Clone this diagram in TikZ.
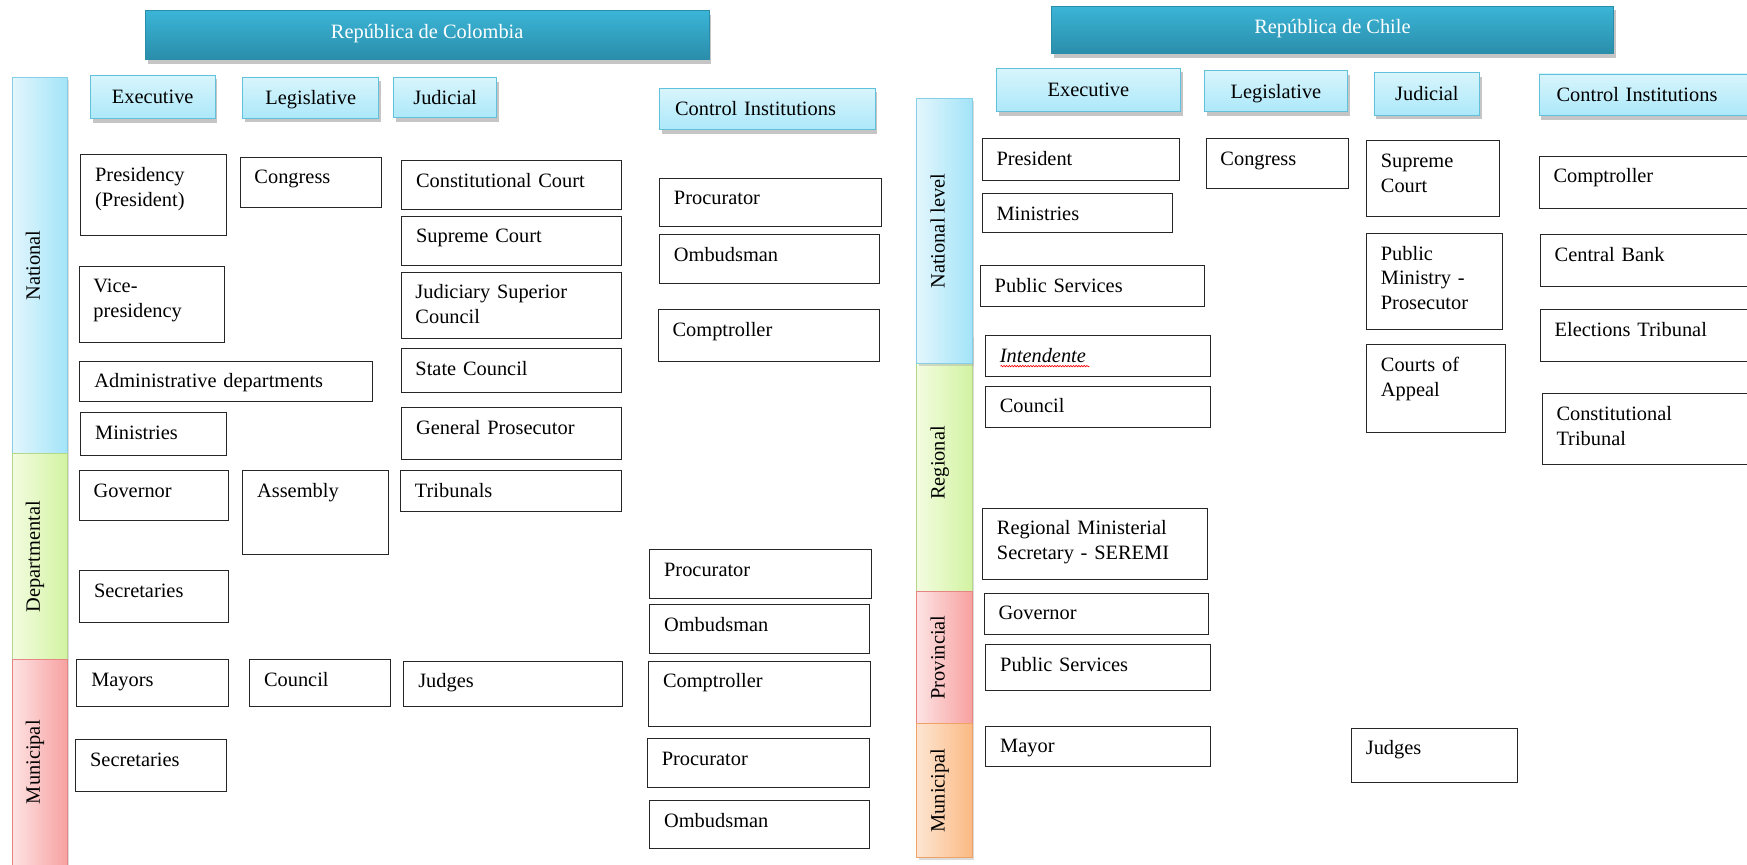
\documentclass[tikz,border=0pt]{standalone}
\usepackage{fontspec}
\setmainfont{Liberation Serif}
\usetikzlibrary{shadows,decorations.pathmorphing}

\definecolor{titletop}{HTML}{3BB5D7}
\definecolor{titlebot}{HTML}{2A8DAA}
\definecolor{headtop}{HTML}{D8F5FC}
\definecolor{headbot}{HTML}{ACE8FA}
\definecolor{headline}{HTML}{62C0DA}
\definecolor{natL}{HTML}{E3F6FD}
\definecolor{natR}{HTML}{A3E4F8}
\definecolor{natline}{HTML}{86CFE6}
\definecolor{depL}{HTML}{F3FCE0}
\definecolor{depR}{HTML}{D2F3A2}
\definecolor{depline}{HTML}{B4D88A}
\definecolor{munL}{HTML}{FDE3E3}
\definecolor{munR}{HTML}{F8A1A1}
\definecolor{munline}{HTML}{E58585}
\definecolor{oraL}{HTML}{FDE5D2}
\definecolor{oraR}{HTML}{FBBA84}
\definecolor{oraline}{HTML}{EFA265}

\tikzset{
  box/.style={draw=black!85, line width=0.8pt, fill=white, anchor=north west,
    align=left, inner xsep=13pt, inner ysep=11pt, text height=13pt},
  cell/.style 2 args={box, text width=#1pt, text depth=#2pt},
  branch/.style 2 args={draw=headline, line width=0.8pt, top color=headtop,
    bottom color=headbot, anchor=north west, inner sep=0pt,
    minimum width=#1pt, minimum height=#2pt, text height=12.2pt, text depth=0pt,
    drop shadow={shadow xshift=2pt, shadow yshift=-3.5pt, fill=black!45, opacity=0.5}},
  banner/.style 2 args={draw=titlebot, line width=0.8pt, top color=titletop,
    bottom color=titlebot, text=white, anchor=north west, inner sep=0pt,
    minimum width=#1pt, minimum height=#2pt, text height=12.2pt, text depth=6pt,
    drop shadow={shadow xshift=2pt, shadow yshift=-4pt, fill=black!45, opacity=0.5}},
  levelbar/.style={anchor=north west, inner sep=0pt, minimum width=49.5pt,
    line width=0.8pt,
    drop shadow={shadow xshift=1.5pt, shadow yshift=-2.5pt, fill=black!35, opacity=0.4}},
  natbar/.style={levelbar, draw=natline, left color=natL, right color=natR},
  depbar/.style={levelbar, draw=depline, left color=depL, right color=depR},
  munbar/.style={levelbar, draw=munline, left color=munL, right color=munR},
  orabar/.style={levelbar, draw=oraline, left color=oraL, right color=oraR},
  bartext/.style={rotate=90, inner sep=0pt, text height=12.2pt, text depth=0pt},
}

\begin{document}
\begin{tikzpicture}[x=1pt,y=-1pt,font=\fontsize{18.3}{22.3}\selectfont]
  \useasboundingbox (0,0) rectangle (1568,775.5);

  % Colombia
  \node[banner={506}{44}] (colTitle) at (130,9) {República de Colombia};

  \node[natbar, minimum height=337.8pt] (colNat) at (10.5,69) {};
  \node[depbar, minimum height=184.9pt] (colDep) at (10.5,406.8) {};
  \node[munbar, minimum height=190pt] (colMun) at (10.5,591.7) {};
  \node[bartext] (colNatText) at ([xshift=-6pt]colNat.center) {National};
  \node[bartext] (colDepText) at ([xshift=-6pt]colDep.center) {Departmental};
  \node[bartext] (colMunText) at ([xshift=-6pt,yshift=3pt]colMun.center) {Municipal};

  \node[branch={111.8}{38.9}] (colExec) at (80.8,67.3) {Executive};
  \node[branch={122}{36.5}] (colLeg) at (217.5,69) {Legislative};
  \node[branch={92.9}{35.8}] (colJud) at (352.6,69.4) {Judicial};
  \node[branch={193.4}{37.4}, text width=165.4pt, align=left] (colCtrl) at (591.5,78.7) {Control Institutions};

  \node[cell={105}{37.5}] (colPres) at (72,138.5) {Presidency\\(President)};
  \node[cell={104.5}{33.8}] (colVice) at (70.5,238.4) {Vice-\\presidency};
  \node[cell={237}{1.2}] (colAdmin) at (71.3,323.7) {Administrative departments};
  \node[cell={105}{3.3}] (colMin) at (72,370) {Ministries};
  \node[cell={108.4}{10.2}] (colGov) at (70.6,421.8) {Governor};
  \node[cell={108}{11.5}] (colSecDep) at (71,512) {Secretaries};
  \node[cell={110.5}{6.6}] (colMayors) at (68.5,591.7) {Mayors};
  \node[cell={109}{11.3}] (colSecMun) at (67.5,663.5) {Secretaries};

  \node[cell={100.7}{10}] (colCong) at (215,140.6) {Congress};
  \node[cell={105}{40.7}] (colAssem) at (217.4,421.8) {Assembly};
  \node[cell={100.2}{6.6}] (colCouncil) at (223.6,591.7) {Council};

  \node[cell={171.7}{8.6}] (colConst) at (360,144) {Constitutional Court};
  \node[cell={171}{9.3}] (colSup) at (360,193.5) {Supreme Court};
  \node[cell={172}{24.2}] (colJudic) at (359.5,243.8) {Judiciary Superior\\Council};
  \node[cell={171.5}{4}] (colState) at (359.5,312.6) {State Council};
  \node[cell={171.7}{11.7}] (colGenPro) at (360,365.5) {General Prosecutor};
  \node[cell={172}{1.8}] (colTrib) at (359,421.8) {Tribunals};
  \node[cell={170}{5.4}] (colJudges) at (362,592.9) {Judges};

  \node[cell={173}{8.3}] (colProcNat) at (591.5,159.5) {Procurator};
  \node[cell={171}{8.4}] (colOmbNat) at (591.5,210.3) {Ombudsman};
  \node[cell={173}{11.4}] (colCompNat) at (590.3,277.6) {Comptroller};
  \node[cell={173}{8.4}] (colProcDep) at (582.7,493) {Procurator};
  \node[cell={171.3}{8.4}] (colOmbDep) at (582.7,542.3) {Ombudsman};
  \node[cell={172.8}{24.1}] (colCompMun) at (581.7,592.9) {Comptroller};
  \node[cell={173.4}{8.4}] (colProcMun) at (580.6,662.6) {Procurator};
  \node[cell={171.3}{8.3}] (colOmbMun) at (582.7,718) {Ombudsman};

  % Chile
  \node[banner={504.2}{43}] (chTitle) at (943.4,5) {República de Chile};

  \node[depbar, minimum height=230.2pt] (chReg) at (822.5,300) {};
  \node[natbar, minimum height=238pt] (chNat) at (822.5,88) {};
  \node[munbar, minimum height=119pt] (chProv) at (822.5,530.2) {};
  \node[orabar, minimum height=119.7pt] (chMun) at (822.5,649.2) {};
  \node[bartext] (chNatText) at ([xshift=-6pt]chNat.center) {National level};
  \node[bartext] (chRegText) at ([xshift=-6pt]chReg.center) {Regional};
  \node[bartext] (chProvText) at ([xshift=-6pt]chProv.center) {Provincial};
  \node[bartext] (chMunText) at ([xshift=-6pt]chMun.center) {Municipal};

  \node[branch={165}{39}] (chExec) at (894,61) {Executive};
  \node[branch={128.4}{37}] (chLeg) at (1080.6,63) {Legislative};
  \node[branch={95}{38}] (chJud) at (1232.8,65) {Judicial};
  \node[branch={200}{37.5}, text width=168.6pt, align=left] (chCtrl) at (1381,66) {Control Institutions};

  \node[cell={151}{2.5}] (chPres) at (881,124) {President};
  \node[cell={145}{0}] (chMin) at (881,173.5) {Ministries};
  \node[cell={175.6}{1.6}] (chPubNat) at (879.4,238) {Public Services};
  \node[cell={176}{1.8}] (chIntend) at (884,300.6) {\textit{Intendente}};
  \node[cell={176}{2}] (chCouncil) at (884,346) {Council};
  \node[cell={175.6}{29}] (chSeremi) at (881.4,455.7) {Regional Ministerial\\Secretary - SEREMI};
  \node[cell={175.2}{2}] (chGov) at (882.8,532) {Governor};
  \node[cell={176}{6}] (chPubProv) at (884.3,578.3) {Public Services};
  \node[cell={176}{1.2}] (chMayor) at (884.3,651.3) {Mayor};
  \draw[red, line width=0.6pt, decorate, decoration={snake, amplitude=0.6pt, segment length=2.4pt}]
    ([xshift=14pt,yshift=-28pt]chIntend.north west) -- ([xshift=94pt,yshift=-28pt]chIntend.north west);

  \node[cell={102}{9.4}] (chCong) at (1082,124) {Congress};

  \node[cell={93}{33}] (chSup) at (1226,126) {Supreme\\Court};
  \node[cell={96}{51.5}] (chPubMin) at (1226,209) {Public\\Ministry -\\Prosecutor};
  \node[cell={98.6}{43.4}] (chAppeal) at (1226,309) {Courts of\\Appeal};
  \node[cell={122.8}{13.6}] (chJudges) at (1212.5,653) {Judges};

  \node[cell={173}{11.7}] (chComp) at (1381,139.7) {Comptroller};
  \node[cell={172}{11.7}] (chBank) at (1382,210) {Central Bank};
  \node[cell={172}{11.4}] (chElect) at (1382,277.6) {Elections Tribunal};
  \node[cell={171}{28.4}] (chConstT) at (1383.6,353) {Constitutional\\Tribunal};

\end{tikzpicture}
\end{document}
